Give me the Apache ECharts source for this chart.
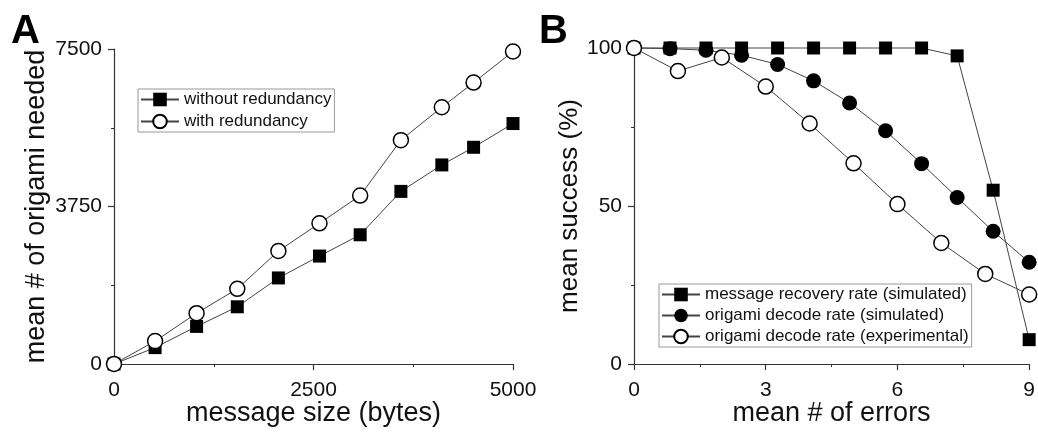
<!DOCTYPE html>
<html>
<head>
<meta charset="utf-8">
<script src="https://cdn.jsdelivr.net/npm/echarts@6/dist/echarts.min.js"></script>
<style>
  html, body { margin: 0; padding: 0; background: #fff; }
  #chart { width: 1038px; height: 432px; }
</style>
</head>
<body>
<div id="chart"></div>
<script>
// Panel A: origami needed vs message size
const sizeBytes = [0, 515, 1035, 1545, 2060, 2575, 3085, 3595, 4108, 4506, 5000];
const noRedundancy = [0, 390, 895, 1362, 2049, 2570, 3077, 4110, 4740, 5160, 5725];
const withRedundancy = [0, 545, 1210, 1790, 2690, 3350, 4010, 5330, 6114, 6700, 7440];

// Panel B: success vs mean number of errors
const errorsSim = [0, 0.82, 1.64, 2.45, 3.27, 4.09, 4.91, 5.73, 6.55, 7.36, 8.18, 9];
const recoverySim = [100, 100, 100, 100, 100, 100, 100, 100, 100, 97.5, 55, 7.7];
const decodeSim = [100, 99.8, 99.3, 97.7, 94.8, 89.6, 82.6, 73.8, 63.4, 52.7, 42.0, 32.2];
const errorsExp = [0, 1, 2, 3, 4, 5, 6, 7, 8, 9];
const decodeExp = [100, 92.7, 97.0, 87.8, 76.1, 63.5, 50.6, 38.3, 28.5, 22.0];

const FONT = "'Liberation Sans', Arial, sans-serif";
const INK = '#111';
const LINE = '#444';

const pairs = (xs, ys) => xs.map((x, i) => [x, ys[i]]);
const tickLabel = (margin) => ({ fontFamily: FONT, fontSize: 21, color: INK, margin, formatter: (v) => String(v) });
const nameStyle = (size) => ({ fontFamily: FONT, fontSize: size, color: INK });

function axisBase(extra) {
  return Object.assign({
    type: 'value',
    axisLine: { show: true, onZero: false, lineStyle: { color: '#333', width: 1.2 } },
    axisTick: { show: true, inside: false, length: 6, lineStyle: { color: '#333', width: 1.2 } },
    minorTick: { show: true, splitNumber: 2, length: 3, lineStyle: { color: '#333', width: 1 } },
    splitLine: { show: false },
    nameLocation: 'middle',
    nameMoveOverlap: false,
  }, extra);
}

function lineSeries(name, xi, data, symbol, size, fill) {
  return {
    name,
    type: 'line',
    xAxisIndex: xi,
    yAxisIndex: xi,
    data,
    symbol,
    symbolSize: size,
    showAllSymbol: true,
    clip: false,
    lineStyle: { color: LINE, width: 1 },
    itemStyle: { color: fill, borderColor: '#000', borderWidth: fill === '#fff' ? 1.5 : 0, opacity: 1 },
    emphasis: { disabled: true },
  };
}

const legendBase = {
  orient: 'vertical',
  itemWidth: 38,
  itemHeight: 17,
  selectedMode: false,
  borderColor: '#999',
  borderWidth: 1,
  borderRadius: 0,
  textStyle: { fontFamily: FONT, fontSize: 17, color: INK },
};

const chart = echarts.init(document.getElementById('chart'));
chart.setOption({
  backgroundColor: '#fff',
  animation: false,
  grid: [
    { left: 114, right: 525, top: 49, bottom: 62 },
    { left: 634, right: 6, top: 48, bottom: 62 },
  ],
  xAxis: [
    axisBase({ gridIndex: 0, min: 0, max: 5000, interval: 2500, name: 'message size (bytes)', nameGap: 36,
      axisLabel: tickLabel(16), nameTextStyle: nameStyle(27) }),
    axisBase({ gridIndex: 1, min: 0, max: 9, interval: 3, name: 'mean # of errors', nameGap: 36,
      axisLabel: tickLabel(16), nameTextStyle: nameStyle(27) }),
  ],
  yAxis: [
    axisBase({ gridIndex: 0, min: 0, max: 7500, interval: 3750, name: 'mean # of origami needed', nameGap: 64,
      axisLabel: tickLabel(12), nameTextStyle: nameStyle(27) }),
    axisBase({ gridIndex: 1, min: 0, max: 100, interval: 50, name: 'mean success (%)', nameGap: 51,
      axisLabel: tickLabel(12), nameTextStyle: nameStyle(26) }),
  ],
  legend: [
    Object.assign({}, legendBase, {
      left: 138, top: 89, itemGap: 5, padding: [2, 3, 2, 2],
      data: ['without redundancy', 'with redundancy'],
    }),
    Object.assign({}, legendBase, {
      left: 659, top: 284, itemGap: 4, padding: [2, 3, 2, 2],
      data: ['message recovery rate (simulated)', 'origami decode rate (simulated)', 'origami decode rate (experimental)'],
    }),
  ],
  graphic: [
    { type: 'text', left: 11, top: 12, style: { text: 'A', font: `bold 40px ${FONT}`, fill: '#000' } },
    { type: 'text', left: 539, top: 12, style: { text: 'B', font: `bold 40px ${FONT}`, fill: '#000' } },
  ],
  series: [
    lineSeries('without redundancy', 0, pairs(sizeBytes, noRedundancy), 'rect', 13, '#000'),
    lineSeries('with redundancy', 0, pairs(sizeBytes, withRedundancy), 'circle', 15, '#fff'),
    lineSeries('message recovery rate (simulated)', 1, pairs(errorsSim, recoverySim), 'rect', 13, '#000'),
    lineSeries('origami decode rate (simulated)', 1, pairs(errorsSim, decodeSim), 'circle', 15, '#000'),
    lineSeries('origami decode rate (experimental)', 1, pairs(errorsExp, decodeExp), 'circle', 15, '#fff'),
  ],
});
</script>
</body>
</html>
